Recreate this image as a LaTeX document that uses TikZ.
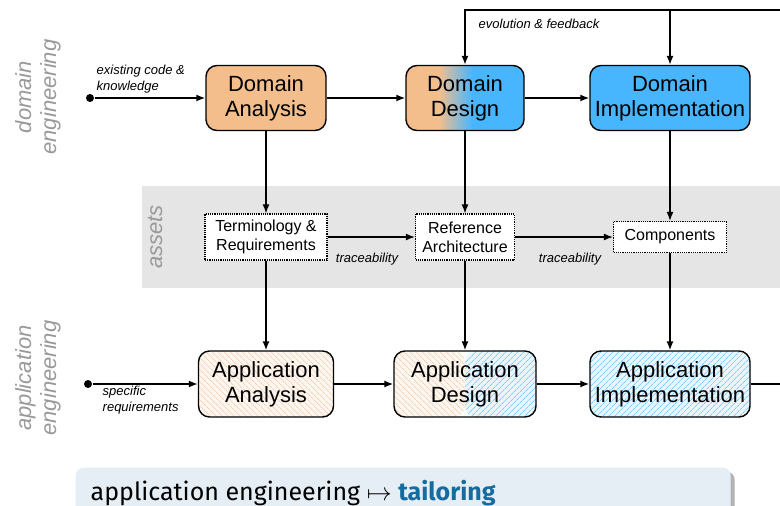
\documentclass[tikz,border=0pt]{standalone}
\usepackage{fontspec}
\setmainfont{Liberation Sans}
\newfontfamily\slidefont{Fira Sans}
\usetikzlibrary{arrows.meta,patterns.meta,shadows}

\definecolor{anaorange}{RGB}{243,190,140}
\definecolor{impblue}{RGB}{72,182,255}
\definecolor{notefill}{RGB}{230,238,245}
\definecolor{noteblue}{RGB}{22,108,160}
\pgfdeclarehorizontalshading{designshade}{100bp}{color(0bp)=(anaorange); color(39bp)=(anaorange);
  color(53bp)=(impblue); color(100bp)=(impblue)}

\let\lbl\textit % Edge label.
\newcommand{\side}[1]{\textcolor{black!40}{\itshape #1}}

\begin{document}
\begin{tikzpicture}[x=1pt,y=-1pt,line width=1.4pt,>={Latex[length=9pt,width=7pt]},
    phase/.style={draw,rounded corners=11pt,align=center,inner sep=3pt,
                  minimum height=65pt,font=\fontsize{22}{25}\selectfont},
    asset/.style={draw,densely dotted,line width=1.2pt,fill=white,align=center,inner sep=6pt,
                  font=\fontsize{16}{19}\selectfont},
    note/.style={font=\fontsize{13}{16}\selectfont\itshape,align=left,inner sep=0pt},
    sidelabel/.style={rotate=90,align=center,font=\fontsize{22}{25}\selectfont},
    dot/.style={circle,fill,inner sep=0pt,minimum size=8pt},
    hatchorange/.style={pattern={Lines[angle=-45,distance=4pt,line width=.6pt]},pattern color=anaorange},
    hatchblue/.style={pattern={Lines[angle=45,distance=4pt,line width=.6pt]},pattern color=impblue}]
\useasboundingbox (0,0) rectangle (780,506);

% assets band
\fill[black!10] (142,186) rectangle (780,288);

\node[sidelabel] (lde) at (38,97) {\side{domain}\\\side{engineering}};
\node[sidelabel] (las) at (155,237) {\side{assets}};
\node[sidelabel] (lae) at (38,378) {\side{application}\\\side{engineering}};

% domain engineering
\node[phase,fill=anaorange,minimum width=120pt] (da) at (266,98) {Domain\\Analysis};
\node[phase,shade,shading=designshade,minimum width=118pt] (dd) at (465,98) {Domain\\Design};
\node[phase,fill=impblue,minimum width=160pt] (di) at (670,98) {Domain\\Implementation};

% assets
\node[asset,minimum width=122pt,minimum height=46pt] (tr) at (266,237) {Terminology \&\\Requirements};
\node[asset,minimum width=99pt,minimum height=46pt] (ra) at (465,237) {Reference\\Architecture};
\node[asset,minimum width=113pt,minimum height=31pt] (co) at (670,237) {Components};

% application engineering
\node[phase,minimum width=135pt,minimum height=66pt,fill=anaorange!12,
      path picture={\fill[hatchorange] (path picture bounding box.south west) rectangle (path picture bounding box.north east);}]
  (aa) at (266,384) {Application\\Analysis};
\node[phase,minimum width=142pt,minimum height=66pt,
      path picture={
        \fill[anaorange!12] (path picture bounding box.south west) rectangle (path picture bounding box.north);
        \fill[hatchorange] (path picture bounding box.south west) rectangle (path picture bounding box.north);
        \fill[impblue!12] (path picture bounding box.south) rectangle (path picture bounding box.north east);
        \fill[hatchblue] (path picture bounding box.south) rectangle (path picture bounding box.north east);}]
  (ad) at (465,384) {Application\\Design};
\node[phase,minimum width=160pt,minimum height=66pt,fill=impblue!12,
      path picture={\fill[hatchblue] (path picture bounding box.south west) rectangle (path picture bounding box.north east);}]
  (ai) at (670,384) {Application\\Implementation};

% inputs and outputs
\node[dot] (src) at (90,98) {};
\node[dot] (req) at (88,384) {};
\coordinate (fb) at (780,10);
\coordinate (out) at (780,384);

\draw[->] (src) -- (da);
\draw[->] (da) -- (dd);
\draw[->] (dd) -- (di);
\draw[->] (fb) -| (dd.north);
\draw[->] (di.north |- fb) -- (di.north);

\draw[->] (da) -- (tr);
\draw[->] (dd) -- (ra);
\draw[->] (di) -- (co);
\draw[->] (tr) -- (ra);
\draw[->] (ra) -- (co);

\draw[->] (tr) -- (aa);
\draw[->] (ra) -- (ad);
\draw[->] (co) -- (ai);
\draw[->] (req) -- (aa);
\draw[->] (aa) -- (ad);
\draw[->] (ad) -- (ai);
\draw (ai) -- (out);

\node[note,anchor=west] (ncode) at (96,79) {existing code \&\\knowledge};
\node[note,anchor=west] (nfb) at (478,24) {evolution \& feedback};
\node[note] (ntr1) at (367,259) {traceability};
\node[note] (ntr2) at (570,259) {traceability};
\node[note,anchor=west] (nreq) at (102,400) {specific\\requirements};

% tailoring note
\node[fill=notefill,rounded corners=8pt,anchor=north west,minimum width=655pt,minimum height=60pt,
      drop shadow={shadow xshift=4pt,shadow yshift=-4pt,opacity=.6}] (nbox) at (75,467) {};
\node[anchor=base west,inner sep=0pt,font=\slidefont\fontsize{25}{29}\selectfont] (ntail) at (90,500)
  {application engineering $\mapsto$ \textcolor{noteblue}{\bfseries tailoring}};
\end{tikzpicture}
\end{document}
